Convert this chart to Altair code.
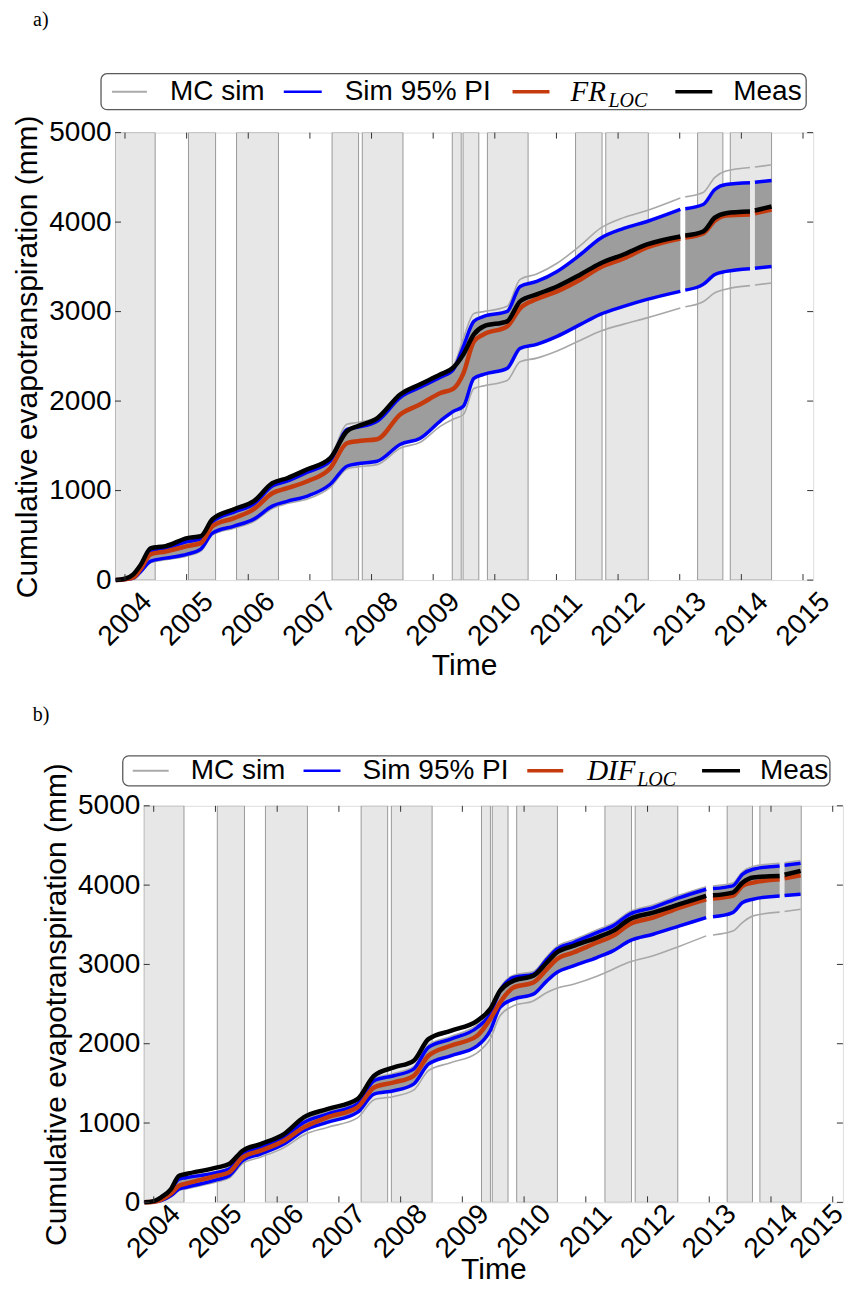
import altair as alt
import pandas as pd

# ------------------------------------------------------------------ data
YEAR_TICKS = list(range(2004, 2016))
ET_TICKS = [0, 1000, 2000, 3000, 4000, 5000]

# shaded periods (decimal years)
BAND_START = [2003.84, 2005.03, 2005.81, 2007.36, 2007.85, 2009.31, 2009.485,
              2009.88, 2011.31, 2011.80, 2013.29, 2013.82]
BAND_END = [2004.49, 2005.47, 2006.49, 2007.79, 2008.51, 2009.455, 2009.74,
            2010.54, 2011.74, 2012.49, 2013.70, 2014.49]

N = None  # data gap

# ---- panel a (FR_LOC)
A_TIME = [2003.85, 2004.00, 2004.14, 2004.25, 2004.42, 2004.66, 2005.01, 2005.23,
          2005.42, 2005.77, 2006.09, 2006.39, 2006.63, 2006.96, 2007.33, 2007.60,
          2007.77, 2008.09, 2008.47, 2008.79, 2009.12, 2009.33, 2009.49, 2009.66,
          2009.82, 2010.20, 2010.41, 2010.68, 2011.01, 2011.39, 2011.71, 2012.09,
          2012.47, 2013.01, 2013.05, 2013.09, 2013.38, 2013.57, 2013.75, 2014.14,
          2014.18, 2014.22, 2014.49]
A_MEAS = [0, 15, 67, 165, 357, 380, 469, 491, 681, 792, 882, 1083, 1138, 1239, 1362,
          1663, 1719, 1808, 2076, 2188, 2299, 2377, 2522, 2746, 2835, 2891, 3114,
          3192, 3281, 3415, 3538, 3638, 3750, 3839, N, 3850, 3895, 4050, 4100, 4118,
          N, 4130, 4174]
A_SIM = [0, 8, 30, 120, 290, 320, 380, 413, 603, 692, 792, 971, 1027, 1105, 1250,
         1529, 1552, 1574, 1853, 1964, 2090, 2140, 2310, 2667, 2746, 2835, 3036,
         3140, 3226, 3359, 3493, 3593, 3717, 3817, N, 3828, 3873, 4015, 4074, 4085,
         N, 4097, 4141]
A_PI_HI = [0, 12, 50, 150, 330, 355, 430, 460, 650, 760, 850, 1050, 1105, 1205, 1330,
           1685, 1708, 1775, 2042, 2154, 2266, 2355, 2612, 2891, 2946, 3002, 3281,
           3337, 3449, 3638, 3817, 3929, 4007, 4141, N, 4150, 4197, 4364, 4420, 4440,
           N, 4445, 4464]
A_PI_LO = [0, 6, 22, 90, 212, 245, 290, 346, 525, 603, 681, 826, 880, 938, 1071,
           1272, 1300, 1328, 1518, 1585, 1780, 1886, 1942, 2254, 2299, 2366, 2589,
           2634, 2723, 2857, 2969, 3058, 3136, 3226, N, 3240, 3304, 3415, 3449, 3480,
           N, 3485, 3505]
A_MC_MAX = [0, 18, 65, 175, 370, 395, 480, 505, 695, 805, 895, 1095, 1150, 1250, 1378,
            1740, 1760, 1820, 2085, 2195, 2310, 2400, 2700, 2980, 3000, 3060, 3360,
            3420, 3540, 3740, 3930, 4050, 4130, 4270, N, 4282, 4330, 4500, 4570, 4610,
            N, 4615, 4640]
A_MC_MIN = [0, 4, 15, 80, 195, 228, 270, 325, 505, 580, 655, 800, 855, 905, 1035,
            1240, 1265, 1290, 1475, 1540, 1720, 1800, 1850, 2140, 2170, 2230, 2440,
            2480, 2560, 2680, 2780, 2860, 2930, 3040, N, 3055, 3110, 3210, 3250, 3290,
            N, 3297, 3320]

# ---- panel b (DIF_LOC)
B_TIME = [2003.85, 2004.00, 2004.12, 2004.28, 2004.41, 2004.52, 2005.03, 2005.22,
          2005.44, 2005.73, 2006.11, 2006.43, 2006.81, 2007.30, 2007.57, 2007.89,
          2008.21, 2008.45, 2008.81, 2009.24, 2009.45, 2009.61, 2009.83, 2010.15,
          2010.37, 2010.53, 2010.80, 2011.18, 2011.44, 2011.71, 2012.09, 2012.52,
          2012.95, 2013.00, 2013.06, 2013.38, 2013.54, 2013.71, 2014.14, 2014.18,
          2014.22, 2014.48]
B_MEAS = [0, 15, 63, 168, 336, 357, 441, 483, 651, 735, 861, 1071, 1176, 1302, 1596,
          1701, 1785, 2058, 2163, 2289, 2436, 2667, 2793, 2856, 3024, 3150, 3234,
          3339, 3423, 3570, 3654, 3759, 3864, N, 3872, 3906, 4032, 4095, 4116, N,
          4130, 4179]
B_SIM = [0, 8, 34, 110, 210, 235, 336, 378, 567, 651, 777, 945, 1071, 1197, 1449,
         1512, 1596, 1848, 1974, 2100, 2310, 2520, 2709, 2772, 2940, 3066, 3150,
         3276, 3360, 3507, 3591, 3717, 3822, N, 3830, 3864, 3990, 4032, 4074, N,
         4085, 4124]
B_PI_HI = [0, 10, 42, 160, 294, 310, 378, 420, 609, 693, 819, 1008, 1113, 1239, 1533,
           1596, 1680, 1953, 2058, 2205, 2373, 2667, 2835, 2877, 3066, 3192, 3276,
           3402, 3486, 3633, 3717, 3843, 3948, N, 3956, 3990, 4137, 4200, 4242, N,
           4250, 4276]
B_PI_LO = [0, 5, 21, 85, 168, 190, 286, 336, 525, 609, 735, 903, 1008, 1134, 1365,
           1407, 1491, 1743, 1848, 1974, 2163, 2457, 2562, 2625, 2793, 2898, 2982,
           3087, 3171, 3297, 3381, 3486, 3591, N, 3600, 3654, 3780, 3822, 3864, N,
           3869, 3885]
B_MC_MAX = [0, 12, 50, 175, 310, 325, 395, 440, 630, 715, 845, 1035, 1140, 1265, 1560,
            1625, 1710, 1985, 2090, 2240, 2410, 2700, 2865, 2910, 3100, 3225, 3310,
            3435, 3520, 3665, 3750, 3875, 3980, N, 3988, 4025, 4170, 4235, 4275, N,
            4283, 4310]
B_MC_MIN = [0, 3, 15, 70, 150, 170, 260, 305, 490, 570, 690, 850, 945, 1065, 1295,
            1335, 1415, 1660, 1760, 1885, 2060, 2352, 2478, 2540, 2646, 2700, 2751,
            2850, 2940, 3030, 3108, 3230, 3360, N, 3372, 3420, 3530, 3612, 3660, N,
            3668, 3696]

# ------------------------------------------------------------------ style
SANS = "Liberation Sans"
SERIF = "Liberation Serif"
ORANGE = "#c63b0d"
BLUE = "#0000ff"
MC_FILL = "#9d9d9d"
MC_LINE = "#a8a8a8"
X_DOMAIN = [2003.838, 2015.165]
ONE = pd.DataFrame({"k": [0]})


def legend_layers(box, cy, items, name):
    x1, x2, y1, y2 = box
    layers = [alt.Chart(ONE).mark_rect(fill="white", stroke="#5a5a5a", strokeWidth=1.3,
                                       cornerRadius=6).encode(
        x=alt.value(x1), x2=alt.value(x2), y=alt.value(y1), y2=alt.value(y2))]
    for sx1, sx2, color, w, label, tx in items:
        layers.append(alt.Chart(ONE).mark_rule(color=color, strokeWidth=w).encode(
            x=alt.value(sx1), x2=alt.value(sx2), y=alt.value(cy)))
        if label is not None:
            layers.append(alt.Chart(ONE).mark_text(
                text=label, align="left", baseline="middle", font=SANS, fontSize=28,
                color="black").encode(x=alt.value(tx), y=alt.value(cy)))
    main, sub, mx, sx = name
    layers.append(alt.Chart(ONE).mark_text(
        text=main, align="left", baseline="middle", font=SERIF, fontStyle="italic",
        fontSize=29, color="black").encode(x=alt.value(mx), y=alt.value(cy)))
    layers.append(alt.Chart(ONE).mark_text(
        text=sub, align="left", baseline="middle", font=SERIF, fontStyle="italic",
        fontSize=20, color="black").encode(x=alt.value(sx), y=alt.value(cy + 9)))
    return layers


def build_panel(t, meas, sim, pihi, pilo, mcmax, mcmin, W, H, tag, tag_pos,
                box, cy, items, name, x_lab_pad, x_title_pad, spacer=None,
                last_label_shift=0):
    df = pd.DataFrame(dict(t=t, meas=meas, sim=sim, pihi=pihi, pilo=pilo,
                           mcmax=mcmax, mcmin=mcmin))
    bands = pd.DataFrame(dict(s=BAND_START, e=BAND_END))
    yt = pd.DataFrame({"yr": YEAR_TICKS})
    vt = pd.DataFrame({"v": ET_TICKS})

    xs = alt.Scale(domain=X_DOMAIN, nice=False, zero=False)
    ys = alt.Scale(domain=[0, 5000], nice=False)
    x_axis_kw = dict(values=YEAR_TICKS, format="d", grid=False, ticks=False, tickSize=0,
                     domain=False, labelAngle=315, labelAlign="center",
                     labelBaseline="middle", labelPadding=x_lab_pad, labelFont=SANS,
                     labelFontSize=28, labelColor="black", labelFlush=False,
                     labelOverlap=False, titleFont=SANS, titleFontSize=30,
                     titleFontWeight="normal", titleColor="black",
                     titlePadding=x_title_pad)
    if last_label_shift:
        x_axis_kw["labelOffset"] = {
            "condition": {"test": f"datum.value == {YEAR_TICKS[-1]}",
                          "value": last_label_shift},
            "value": 0}
    ax_x = alt.Axis(**x_axis_kw)
    ax_y = alt.Axis(values=ET_TICKS, format="d", grid=False, ticks=False, tickSize=0,
                    domain=False, labelPadding=4, labelFont=SANS, labelFontSize=28,
                    labelColor="black", labelFlush=False, labelOverlap=False,
                    titleFont=SANS, titleFontSize=30, titleFontWeight="normal",
                    titleColor="black", titlePadding=6)

    def X(f):
        return alt.X(f"{f}:Q", scale=xs, axis=ax_x, title="Time")

    def Y(f):
        return alt.Y(f"{f}:Q", scale=ys, axis=ax_y,
                     title="Cumulative evapotranspiration (mm)")

    base = alt.Chart(df)
    layers = [
        alt.Chart(bands).mark_rect(fill="#e7e7e7", stroke="#999999", strokeWidth=1,
                                   clip=True).encode(
            x=X("s"), x2="e", y=alt.value(0), y2=alt.value(H)),
        base.mark_area(color=MC_FILL, interpolate="monotone").encode(
            x=X("t"), y=Y("pilo"), y2="pihi"),
        base.mark_line(color=MC_LINE, strokeWidth=1.6, interpolate="monotone").encode(
            x=X("t"), y=Y("mcmax")),
        base.mark_line(color=MC_LINE, strokeWidth=1.6, interpolate="monotone").encode(
            x=X("t"), y=Y("mcmin")),
        base.mark_line(color=BLUE, strokeWidth=3.5, interpolate="monotone").encode(
            x=X("t"), y=Y("pihi")),
        base.mark_line(color=BLUE, strokeWidth=3.5, interpolate="monotone").encode(
            x=X("t"), y=Y("pilo")),
        base.mark_line(color=ORANGE, strokeWidth=4.5, interpolate="monotone").encode(
            x=X("t"), y=Y("sim")),
        base.mark_line(color="black", strokeWidth=4.5, interpolate="monotone").encode(
            x=X("t"), y=Y("meas")),
        # inward ticks
        alt.Chart(yt).mark_rule(color="#333333", strokeWidth=1).encode(
            x=X("yr"), y=alt.value(H), y2=alt.value(H - 6)),
        alt.Chart(yt).mark_rule(color="#333333", strokeWidth=1).encode(
            x=X("yr"), y=alt.value(0), y2=alt.value(6)),
        alt.Chart(vt).mark_rule(color="#333333", strokeWidth=1).encode(
            y=Y("v"), x=alt.value(0), x2=alt.value(6)),
        alt.Chart(vt).mark_rule(color="#333333", strokeWidth=1).encode(
            y=Y("v"), x=alt.value(W), x2=alt.value(W - 6)),
    ]
    layers += legend_layers(box, cy, items, name)
    layers.append(alt.Chart(ONE).mark_text(
        text=tag, align="left", baseline="middle", font=SERIF, fontSize=20,
        color="black").encode(x=alt.value(tag_pos[0]), y=alt.value(tag_pos[1])))
    if spacer is not None:
        # invisible layout helper that widens this panel's bounds on the right
        layers.append(alt.Chart(ONE).mark_rule(color="white", strokeWidth=0.5).encode(
            x=alt.value(spacer - 1), x2=alt.value(spacer), y=alt.value(0)))
    return alt.layer(*layers).properties(width=W, height=H)


panel_a = build_panel(
    A_TIME, A_MEAS, A_SIM, A_PI_HI, A_PI_LO, A_MC_MAX, A_MC_MIN,
    W=699, H=448, tag="a)", tag_pos=(-82, -113),
    box=(-14, 692, -59, -23), cy=-41,
    items=[(-3, 32, "#aaaaaa", 2, "MC sim", 55),
           (169, 207, BLUE, 2.5, "Sim 95% PI", 230),
           (398, 435, ORANGE, 3.5, None, 0),
           (561, 598, "black", 3.5, "Meas", 619)],
    name=("FR", "LOC", 456, 494), x_lab_pad=39, x_title_pad=0, spacer=763)

panel_b = build_panel(
    B_TIME, B_MEAS, B_SIM, B_PI_HI, B_PI_LO, B_MC_MAX, B_MC_MIN,
    W=700, H=397, tag="b)", tag_pos=(-111, -91),
    box=(-21, 687, -50, -20), cy=-35,
    items=[(-11, 25, "#aaaaaa", 2, "MC sim", 47),
           (160, 197, BLUE, 2.5, "Sim 95% PI", 219),
           (384, 420, ORANGE, 3.5, None, 0),
           (559, 597, "black", 3.5, "Meas", 617)],
    name=("DIF", "LOC", 444, 494), x_lab_pad=29, x_title_pad=-9,
    last_label_shift=-16)

chart = alt.concat(panel_a, panel_b, columns=1, spacing=22, center=True).properties(
    padding={"left": 4, "top": 0, "right": -26, "bottom": -1}
).configure_view(stroke="#333333", strokeWidth=1).configure(font=SANS)

chart.save("out.html", embed_options={"renderer": "svg", "actions": False})
